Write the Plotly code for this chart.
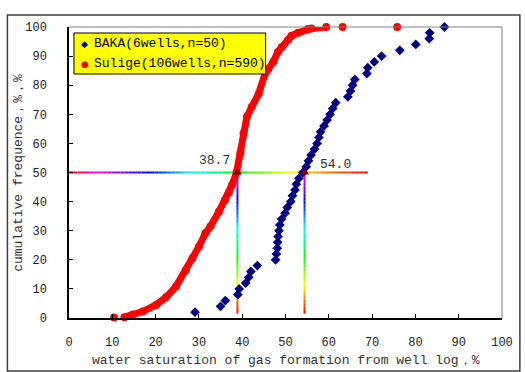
import plotly.graph_objects as go
import colorsys

# ---------------- data ----------------
baka_name = "BAKA(6wells,n=50)"
sulige_name = "Sulige(106wells,n=590)"

baka_sw = [29.1, 35.0, 36.1, 39.0, 39.3, 40.8, 41.5, 42.0, 43.5, 47.7,
           47.9, 48.1, 48.2, 48.3, 48.5, 48.7, 49.1, 49.9, 50.4, 51.2,
           51.6, 52.2, 52.5, 53.1, 54.0, 54.8, 55.3, 55.9, 56.7, 57.3,
           57.7, 58.1, 58.9, 59.6, 60.3, 60.9, 61.6, 64.4, 65.0, 65.5,
           66.0, 68.8, 69.0, 70.5, 72.2, 76.4, 80.1, 83.2, 83.3, 86.7]
baka_cum = [2, 4, 6, 8, 10, 12, 14, 16, 18, 20,
            22, 24, 26, 28, 30, 32, 34, 36, 38, 40,
            42, 44, 46, 48, 50, 52, 54, 56, 58, 60,
            62, 64, 66, 68, 70, 72, 74, 76, 78, 80,
            82, 84, 86, 88, 90, 92, 94, 96, 98, 100]

sulige_sw = [10.4, None, 12.8, 14.7, 17.0, 20.1, 22.4, 24.7, 27.0, 28.5,
             30.0, 31.5, 32.7, 34.6, 36.0, 36.9, 37.6, 38.7, 39.6, 40.3,
             41.1, 42.2, 43.8, 45.3, 46.0, 47.2, 48.3, 49.1, 50.6, 51.4,
             52.9, 55.2, 56.0, 59.4, None, 63.2, None, 75.8]
sulige_cum = [0.2, None, 0.3, 1.2, 2.2, 4.5, 7.1, 10.8, 16.5, 20.5,
              24.5, 29.1, 31.5, 36.5, 40.5, 43.0, 45.5, 50.0, 56.6, 63.5,
              69.2, 72.5, 77.0, 84.0, 85.5, 88.1, 91.5, 93.0, 95.5, 97.0,
              98.0, 99.3, 99.5, 100.0, None, 100.0, None, 100.0]

median_labels = ["38.7", "54.0"]
median_line_sw = [38.9, 54.4]   # where the drop lines sit in the picture
median_cum = 50
h_line_end = 69
v_line_bottom = 1.5

x_title = "water saturation of gas formation from well log，%"
y_title = "cumulative frequence，%，%"
tick_vals = [0, 10, 20, 30, 40, 50, 60, 70, 80, 90, 100]

# ---------------- figure ----------------
L, R, T, B = 69, 20, 27, 54
W, H = 525, 372
PW, PH = W - L - R, H - T - B
FONT = "Liberation Mono, DejaVu Sans Mono, monospace"

def px2paper(px, py):
    return (px - L) / PW, (H - B - py) / PH

fig = go.Figure()

fig.add_trace(go.Scatter(
    x=sulige_sw, y=sulige_cum, mode="lines+markers", name=sulige_name,
    line=dict(color="#ff0000", width=7),
    marker=dict(symbol="circle", size=8, color="#ff0000"),
    connectgaps=False, cliponaxis=False, showlegend=False))

fig.add_trace(go.Scatter(
    x=baka_sw, y=baka_cum, mode="markers", name=baka_name,
    marker=dict(symbol="diamond", size=7.5, color="#000080"),
    cliponaxis=False, showlegend=False))

fig.add_trace(go.Scatter(
    x=median_line_sw, y=[median_cum] * len(median_line_sw), mode="markers",
    marker=dict(symbol="triangle-up", size=8, color="#800000"),
    showlegend=False, hoverinfo="skip"))

def hsv(h):
    r, g, b = colorsys.hsv_to_rgb((h % 360) / 360.0, 1, 1)
    return "rgb(%d,%d,%d)" % (r * 255, g * 255, b * 255)

def interp_hue(t, stops):
    for (t0, h0), (t1, h1) in zip(stops[:-1], stops[1:]):
        if t0 <= t <= t1:
            return h0 + (h1 - h0) * (t - t0) / (t1 - t0)
    return stops[-1][1]

shapes = []
# horizontal gradient line at 50%
h_stops = [(0, 360), (0.1, 300), (0.27, 240), (0.41, 180), (0.57, 120),
           (0.75, 60), (0.86, 30), (1, 0)]
n = 70
for i in range(n):
    t0, t1 = i / n, (i + 1) / n
    shapes.append(dict(type="line", xref="x", yref="y", layer="below",
                       x0=h_line_end * t0, x1=h_line_end * t1,
                       y0=median_cum, y1=median_cum,
                       line=dict(color=hsv(interp_hue((t0 + t1) / 2, h_stops)), width=2)))
# vertical gradient lines
m = 40
for xv in median_line_sw:
    for i in range(m):
        t0, t1 = i / m, (i + 1) / m
        y0 = median_cum - (median_cum - v_line_bottom) * t0
        y1 = median_cum - (median_cum - v_line_bottom) * t1
        shapes.append(dict(type="line", xref="x", yref="y", layer="below",
                           x0=xv, x1=xv, y0=y0, y1=y1,
                           line=dict(color=hsv(300 * (1 - (t0 + t1) / 2)), width=2)))

# plot frame top/right (grey)
shapes.append(dict(type="line", xref="paper", yref="paper", x0=0, x1=1, y0=1, y1=1,
                   line=dict(color="#808080", width=1)))
shapes.append(dict(type="line", xref="paper", yref="paper", x0=1, x1=1, y0=0, y1=1,
                   line=dict(color="#808080", width=1)))
# outer frame
ox0, oy0 = px2paper(7, 371)
ox1, oy1 = px2paper(523, 15)
shapes.append(dict(type="rect", xref="paper", yref="paper", x0=ox0, x1=ox1, y0=oy0, y1=oy1,
                   line=dict(color="#404040", width=1.5)))
# legend box
lx0, ly0 = px2paper(74, 74)
lx1, ly1 = px2paper(267, 33)
shapes.append(dict(type="rect", xref="paper", yref="paper", x0=lx0, x1=lx1, y0=ly0, y1=ly1,
                   fillcolor="#ffff00", line=dict(color="#000000", width=1), layer="above"))

annotations = []
# legend entries
for sym, col, name, py in [("◆", "#000080", baka_name, 43.5), ("●", "#ff0000", sulige_name, 63.5)]:
    sx, sy = px2paper(85, py)
    annotations.append(dict(xref="paper", yref="paper", x=sx, y=sy, text=sym, showarrow=False,
                            xanchor="center", yanchor="middle",
                            font=dict(family="DejaVu Sans", size=9, color=col)))
    tx, ty = px2paper(92, py)
    annotations.append(dict(xref="paper", yref="paper", x=tx, y=ty, text=name, showarrow=False,
                            xanchor="left", yanchor="middle",
                            font=dict(family=FONT, size=13, color="#000000")))

# median labels
annotations.append(dict(x=median_line_sw[0], y=median_cum, text=median_labels[0], showarrow=False,
                        xanchor="right", yanchor="bottom", xshift=-5, yshift=3,
                        font=dict(family=FONT, size=13, color="#333333")))
annotations.append(dict(x=median_line_sw[1], y=median_cum, text=median_labels[1], showarrow=False,
                        xanchor="left", yanchor="bottom", xshift=13, yshift=-1,
                        font=dict(family=FONT, size=13, color="#333333")))

# axis titles
tx, ty = px2paper(287, 360)
annotations.append(dict(xref="paper", yref="paper", x=0.5, y=ty, text=x_title, showarrow=False,
                        xanchor="center", yanchor="middle",
                        font=dict(family=FONT, size=13, color="#333333")))
tx, ty = px2paper(18, 172)
annotations.append(dict(xref="paper", yref="paper", x=tx, y=0.5, text=y_title, showarrow=False,
                        xanchor="center", yanchor="middle", textangle=-90,
                        font=dict(family=FONT, size=13, color="#333333")))

axis_common = dict(range=[0, 100], tickvals=tick_vals, showgrid=False, zeroline=False,
                   showline=True, linecolor="#000000", linewidth=1.5,
                   ticks="inside", ticklen=4, tickcolor="#000000", tickwidth=1,
                   tickfont=dict(family=FONT, size=12, color="#222222"), fixedrange=True)

fig.update_layout(
    width=W, height=H, autosize=False,
    margin=dict(l=L, r=R, t=T, b=B, pad=0),
    paper_bgcolor="#ffffff", plot_bgcolor="#ffffff",
    xaxis=dict(**axis_common, ticklabelstandoff=12),
    yaxis=dict(**axis_common, ticklabelstandoff=18),
    shapes=shapes, annotations=annotations, showlegend=False,
)

fig.write_html("out.html")
